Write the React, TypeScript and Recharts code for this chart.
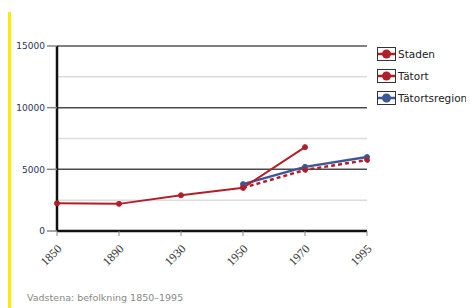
import { LineChart, Line, XAxis, YAxis, CartesianGrid } from 'recharts';

const years = ['1850', '1890', '1930', '1950', '1970', '1995'];
const staden = [2250, 2200, 2900, 3500, 6800, null];
const tatort = [null, null, null, 3500, 4950, 5750];
const tatortsregion = [null, null, null, 3800, 5200, 6000];
const yTicks = [0, 5000, 10000, 15000];
const majorGrid = [5000, 10000];
const topGrid = [15000];
const minorGrid = [2500, 7500, 12500];

const RED = '#b0202a';
const BLUE = '#3d5696';

const data = years.map((y, i) => ({
  year: y,
  staden: staden[i],
  tatort: tatort[i],
  tatortsregion: tatortsregion[i],
}));

const legendItems = [
  { name: 'Staden', color: RED },
  { name: 'Tätort', color: RED },
  { name: 'Tätortsregion', color: BLUE },
];

function LegendBox() {
  return (
    <div
      style={{
        position: 'absolute', left: 369, top: 35,
        fontFamily: '"DejaVu Sans", sans-serif', fontSize: 10.5, color: '#222',
      }}
    >
      {legendItems.map((it) => (
        <div key={it.name} style={{ display: 'flex', alignItems: 'center', height: 22 }}>
          <svg width={19} height={14} style={{ marginRight: 2 }}>
            <rect x={0.5} y={0.5} width={18} height={13} fill="#fff" stroke="#333" />
            <line x1={1} y1={7} x2={18} y2={7} stroke={it.color} strokeWidth={2.5} />
            <circle cx={9.5} cy={7} r={4.5} fill={it.color} />
          </svg>
          <span>{it.name}</span>
        </div>
      ))}
    </div>
  );
}

function XTick({ x, y, payload }: any) {
  return (
    <g transform={`translate(${x + 2},${y + 8})`}>
      <text
        transform="rotate(-45)"
        textAnchor="end"
        dy={5}
        fill="#333"
        fontSize={12}
        fontFamily='"Liberation Serif", serif'
      >
        {payload.value}
      </text>
    </g>
  );
}

const dotStyle = (c: string) => ({ r: 2.5, fill: c, stroke: c, strokeWidth: 1 });

export default function App() {
  return (
    <div style={{ position: 'relative', width: 466, height: 300 }}>
      <div style={{ position: 'absolute', left: 0, top: 4, width: 3, height: 296, background: '#f5ee00' }} />
      <LineChart width={466} height={300} data={data} margin={{ top: 38, right: 107, bottom: 27, left: 0 }}>
        <CartesianGrid horizontalValues={minorGrid} vertical={false} stroke="#dcdcdc" strokeWidth={1.5} />
        <CartesianGrid horizontalValues={majorGrid} vertical={false} stroke="#4a4a4a" strokeWidth={1.5} />
        <CartesianGrid horizontalValues={topGrid} vertical={false} stroke="#808080" strokeWidth={2} />
        <XAxis
          dataKey="year"
          axisLine={{ stroke: '#111', strokeWidth: 2.5 }}
          tickLine={{ stroke: '#888' }}
          tickSize={5}
          tick={<XTick />}
          height={50}
          interval={0}
        />
        <YAxis
          width={49}
          domain={[0, 15000]}
          ticks={yTicks}
          interval={0}
          axisLine={{ stroke: '#111', strokeWidth: 2.5 }}
          tickLine={{ stroke: '#888', strokeWidth: 1.5 }}
          tickSize={10}
          tick={{ fontSize: 9, fill: '#2b3550', fontFamily: '"DejaVu Sans", sans-serif' }}
        />
        <Line
          dataKey="tatortsregion"
          stroke={BLUE}
          strokeWidth={2.5}
          dot={dotStyle(BLUE)}
          isAnimationActive={false}
        />
        <Line
          dataKey="tatort"
          stroke={RED}
          strokeWidth={2.5}
          strokeDasharray="4 3"
          dot={dotStyle(RED)}
          isAnimationActive={false}
        />
        <Line
          dataKey="staden"
          stroke={RED}
          strokeWidth={2}
          dot={dotStyle(RED)}
          isAnimationActive={false}
        />
      </LineChart>
      <LegendBox />
      <div
        style={{
          position: 'absolute', left: 19, top: 284,
          fontFamily: '"DejaVu Sans", sans-serif', fontSize: 9.5, color: '#888',
        }}
      >
        Vadstena: befolkning 1850–1995
      </div>
    </div>
  );
}
